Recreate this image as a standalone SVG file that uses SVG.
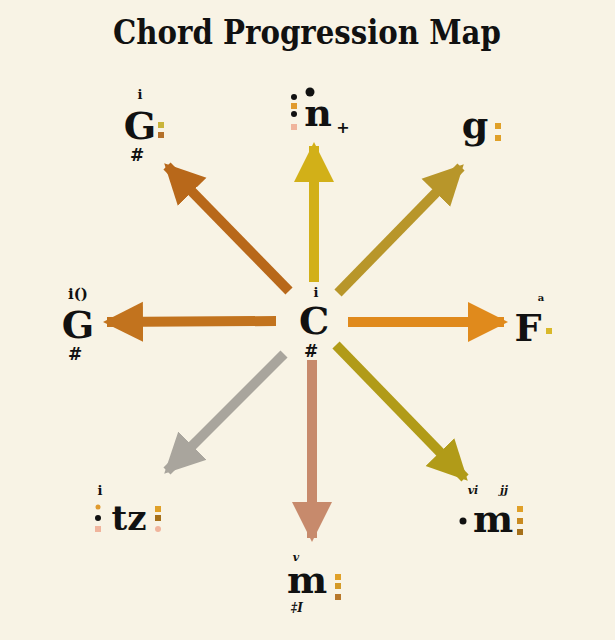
<svg xmlns="http://www.w3.org/2000/svg" width="615" height="640" viewBox="0 0 615 640">
<style>
.t{font-family:"DejaVu Serif","Liberation Serif",serif;font-weight:bold;fill:#111}
.big{font-size:38px;text-anchor:middle}
.sm{font-size:13px;text-anchor:middle}
.sh{font-family:"DejaVu Sans",sans-serif;font-size:17px;font-weight:bold;fill:#111;text-anchor:middle}
.ar{stroke-width:10;fill:none}
</style>
<defs>
<marker id="hA" markerUnits="userSpaceOnUse" markerWidth="44" markerHeight="44" refX="36" refY="22" orient="auto"><path d="M0,2 L40,22 L0,42 Z" fill="#b8681a"/></marker>
<marker id="hB" markerUnits="userSpaceOnUse" markerWidth="44" markerHeight="44" refX="36" refY="22" orient="auto"><path d="M0,2 L40,22 L0,42 Z" fill="#d2b018"/></marker>
<marker id="hC" markerUnits="userSpaceOnUse" markerWidth="44" markerHeight="44" refX="36" refY="22" orient="auto"><path d="M0,2 L40,22 L0,42 Z" fill="#b8962a"/></marker>
<marker id="hD" markerUnits="userSpaceOnUse" markerWidth="44" markerHeight="44" refX="36" refY="22" orient="auto"><path d="M0,2 L40,22 L0,42 Z" fill="#c2731e"/></marker>
<marker id="hE" markerUnits="userSpaceOnUse" markerWidth="44" markerHeight="44" refX="36" refY="22" orient="auto"><path d="M0,2 L40,22 L0,42 Z" fill="#e08a1c"/></marker>
<marker id="hF" markerUnits="userSpaceOnUse" markerWidth="44" markerHeight="44" refX="36" refY="22" orient="auto"><path d="M0,2 L40,22 L0,42 Z" fill="#a9a59d"/></marker>
<marker id="hG" markerUnits="userSpaceOnUse" markerWidth="44" markerHeight="44" refX="36" refY="22" orient="auto"><path d="M0,2 L40,22 L0,42 Z" fill="#c78a6c"/></marker>
<marker id="hH" markerUnits="userSpaceOnUse" markerWidth="44" markerHeight="44" refX="36" refY="22" orient="auto"><path d="M0,2 L40,22 L0,42 Z" fill="#b19b18"/></marker>
</defs>
<rect width="615" height="640" fill="#f8f3e5"/>
<text x="307" y="44" class="t" style="font-size:33px" text-anchor="middle" textLength="388" lengthAdjust="spacingAndGlyphs">Chord Progression Map</text>

<g id="connectors">
<line class="ar" x1="289" y1="291" x2="167" y2="166" stroke="#b8681a" marker-end="url(#hA)"/>
<line class="ar" x1="314" y1="282" x2="314" y2="146" stroke="#d2b018" marker-end="url(#hB)"/>
<line class="ar" x1="338" y1="293" x2="461" y2="167" stroke="#b8962a" marker-end="url(#hC)"/>
<line class="ar" x1="276" y1="321" x2="107" y2="322" stroke="#c2731e" marker-end="url(#hD)"/>
<line class="ar" x1="348" y1="322" x2="504" y2="322" stroke="#e08a1c" marker-end="url(#hE)"/>
<line class="ar" x1="284" y1="354" x2="167" y2="471" stroke="#a9a59d" marker-end="url(#hF)"/>
<line class="ar" x1="312" y1="360" x2="312" y2="538" stroke="#c78a6c" marker-end="url(#hG)"/>
<line class="ar" x1="336" y1="345" x2="465" y2="478" stroke="#b19b18" marker-end="url(#hH)"/>
</g>

<g id="center">
<text x="314" y="334" class="t big">C</text>
<text x="316" y="297" class="t sm">i</text>
<text x="311" y="357" class="sh">#</text>
</g>

<g id="node-topleft">
<text x="140" y="139" class="t big">G</text>
<text x="140" y="99" class="t sm">i</text>
<text x="137" y="161" class="sh">#</text>
<rect x="158" y="122" width="6" height="6" fill="#c9b43a"/>
<rect x="158" y="132" width="6" height="6" fill="#b4702a"/>
</g>

<g id="node-top">
<text x="318" y="126" class="t big">n</text>
<circle cx="310" cy="92" r="4.5" fill="#111"/>
<circle cx="294" cy="97" r="3" fill="#111"/>
<rect x="291" y="103" width="6" height="6" fill="#e09a2e"/>
<circle cx="294" cy="114" r="3" fill="#111"/>
<rect x="291" y="124" width="6" height="6" fill="#f0b49c"/>
<text x="343" y="133" style="font-family:'DejaVu Sans',sans-serif;font-size:16px;font-weight:bold;fill:#111" text-anchor="middle">+</text>
</g>

<g id="node-topright">
<text x="475" y="138" class="t big">g</text>
<rect x="495" y="123" width="6" height="6" fill="#e0a028"/>
<rect x="495" y="135" width="6" height="6" fill="#e0a028"/>
</g>

<g id="node-left">
<text x="78" y="338" class="t big">G</text>
<text x="78" y="299" class="t" style="font-size:15px" text-anchor="middle">i()</text>
<text x="75" y="360" class="sh">#</text>
</g>

<g id="node-right">
<text x="528" y="341" class="t big">F</text>
<text x="541" y="301" class="t" style="font-size:10px" text-anchor="middle">a</text>
<rect x="546" y="328" width="6" height="6" fill="#d9b82a"/>
</g>

<g id="node-bottomleft">
<text x="129" y="530" class="t big" style="font-size:34px">tz</text>
<text x="100" y="495" class="t sm">i</text>
<circle cx="98" cy="507" r="2.5" fill="#e09a2e"/>
<circle cx="98" cy="518" r="3" fill="#111"/>
<rect x="95" y="526" width="6" height="6" fill="#f0b49c"/>
<rect x="155" y="506" width="6" height="6" fill="#e0a028"/>
<rect x="155" y="515" width="6" height="6" fill="#a6701a"/>
<circle cx="158" cy="529" r="3" fill="#f0b49c"/>
</g>

<g id="node-bottomright">
<text x="493" y="532" class="t big">m</text>
<text x="473" y="494" class="t" style="font-size:11px;font-style:italic" text-anchor="middle">vi</text>
<text x="504" y="494" class="t" style="font-size:11px;font-style:italic" text-anchor="middle">jj</text>
<circle cx="463" cy="521" r="3.5" fill="#111"/>
<rect x="517" y="506" width="6" height="6" fill="#e0a028"/>
<rect x="517" y="518" width="6" height="6" fill="#c98a20"/>
<rect x="517" y="529" width="6" height="6" fill="#a6701a"/>
</g>

<g id="node-bottom">
<text x="307" y="593" class="t big">m</text>
<text x="296" y="561" class="t" style="font-size:11px;font-style:italic" text-anchor="middle">v</text>
<text x="297" y="612" class="t" style="font-size:12px;font-style:italic" text-anchor="middle">‡I</text>
<rect x="335" y="574" width="6" height="6" fill="#e0a028"/>
<rect x="335" y="583" width="6" height="6" fill="#d49a28"/>
<rect x="335" y="594" width="6" height="6" fill="#b8782a"/>
</g>
</svg>
